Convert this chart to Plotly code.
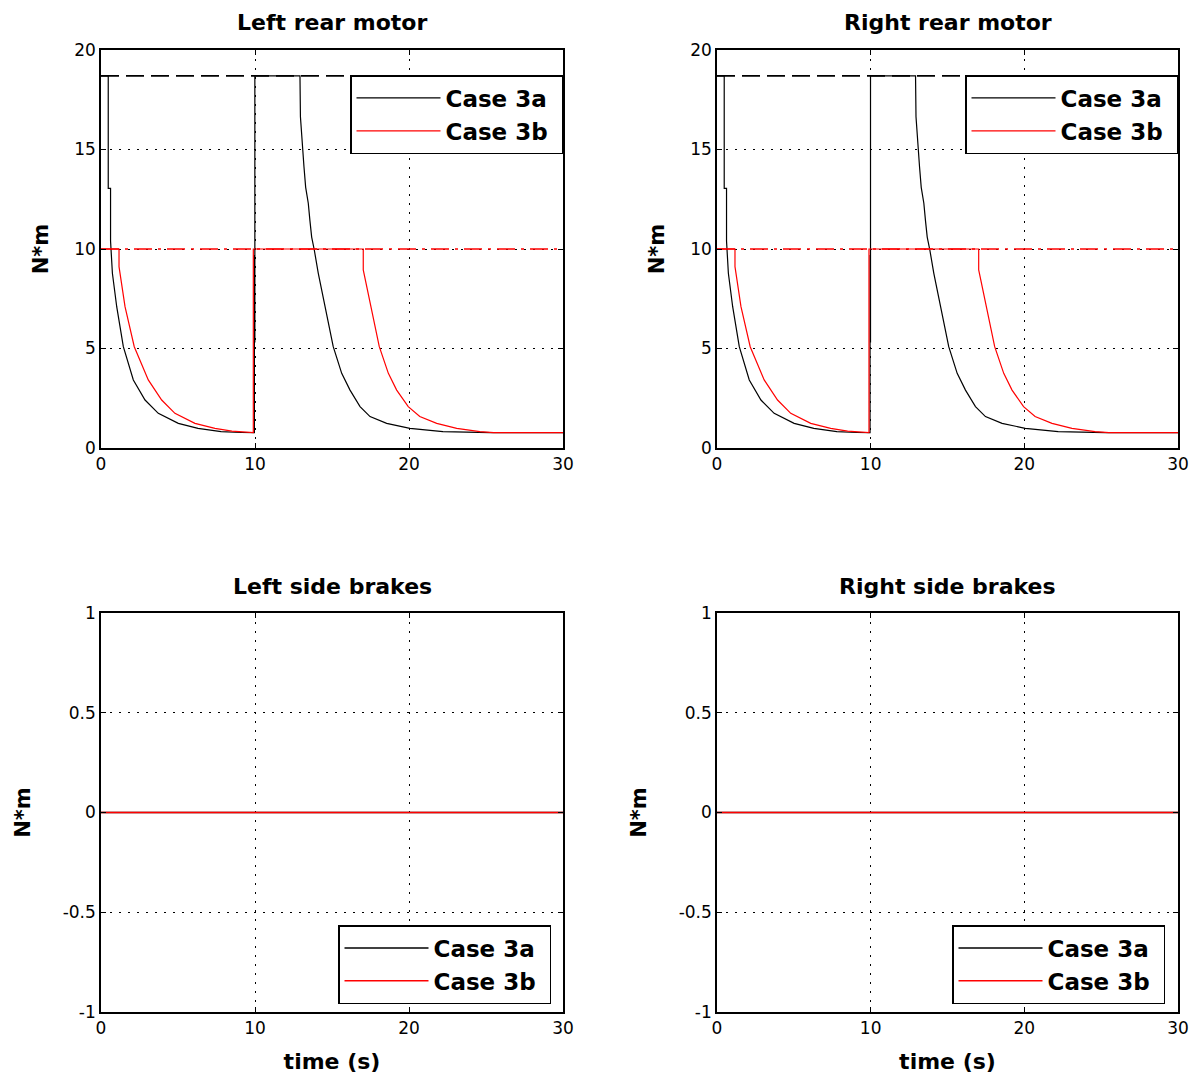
import plotly.graph_objects as go

# ---------------- data ----------------
time_range = [0, 30]
limit_3a = 18.7          # black dashed limit
limit_3b = 10.0          # red dash-dot limit

case3a_t = [0, 0.47, 0.47, 0.62, 0.62, 0.74, 1.02, 1.45, 2.10, 2.86, 3.72, 5.02, 6.30,
            7.80, 9.10, 9.96, 9.96, 9.99, 9.99,
            12.92, 12.95, 13.07, 13.18, 13.29, 13.46, 13.57, 13.68, 13.85, 14.11, 14.55,
            15.08, 15.63, 16.17, 16.82, 17.47, 18.55, 20.06, 22.20, 25.30, 30.0]
case3a_torque = [18.7, 18.7, 13.05, 13.05, 10.4, 8.78, 7.10, 5.09, 3.42, 2.41, 1.74, 1.24, 0.99,
                 0.82, 0.78, 0.77, 9.70, 5.30, 18.7,
                 18.7, 16.65, 15.14, 14.13, 13.10, 12.30, 11.40, 10.60, 9.95, 8.78, 7.10,
                 5.09, 3.75, 2.91, 2.08, 1.58, 1.24, 0.99, 0.82, 0.77, 0.77]

case3b_t = [0, 1.17, 1.17, 1.56, 2.16, 3.07, 3.94, 4.80, 6.10, 7.40, 8.50, 9.89, 9.89,
            17.03, 17.03, 17.51, 18.07, 18.66, 19.20, 19.95, 20.70, 21.80, 23.10, 24.60, 25.50, 30.0]
case3b_torque = [10.0, 10.0, 9.11, 7.10, 5.09, 3.42, 2.41, 1.74, 1.24, 0.99, 0.85, 0.77, 10.0,
                 10.0, 8.95, 7.10, 5.09, 3.75, 2.91, 2.08, 1.58, 1.24, 0.99, 0.82, 0.77, 0.77]

brake_t = [0, 30]
brake_3a = [0, 0]
brake_3b = [0, 0]

panel_titles = ["Left rear motor", "Right rear motor", "Left side brakes", "Right side brakes"]
legend_names = ["Case 3a", "Case 3b"]
motor_ticks = [0, 5, 10, 15, 20]
motor_ticklabels = ["0", "5", "10", "15", "20"]
brake_ticks = [-1, -0.5, 0, 0.5, 1]
brake_ticklabels = ["-1", "-0.5", "0", "0.5", "1"]
time_ticks = [0, 10, 20, 30]
time_ticklabels = ["0", "10", "20", "30"]
y_label = "N*m"
x_label = "time (s)"

# ---------------- figure ----------------
OFF = 8                      # default page body margin (figure starts at page x=8, y=8)
W, H = 1201 - OFF, 1075 - OFF
ML, MT = 101 - OFF, 50 - OFF
MR, MB = 23, 63
PW, PH = W - ML - MR, H - MT - MB


def px_x(px):
    return (px - OFF - ML) / PW


def px_y(py):
    return (H - MB - (py - OFF)) / PH


fig = go.Figure()

BLACK = "#000000"
RED = "#ff0000"
NBSP = "\u00a0"

for i in range(4):
    n = i + 1
    xa = "x" if n == 1 else f"x{n}"
    ya = "y" if n == 1 else f"y{n}"
    lg = "legend" if n == 1 else f"legend{n}"
    if i < 2:
        fig.add_trace(go.Scatter(x=case3a_t, y=case3a_torque, mode="lines",
                                 name=legend_names[0] + NBSP,
                                 line=dict(color=BLACK, width=1.2), xaxis=xa, yaxis=ya,
                                 legend=lg, legendgroup="a", showlegend=True))
        fig.add_trace(go.Scatter(x=case3b_t, y=case3b_torque, mode="lines",
                                 name=legend_names[1] + NBSP,
                                 line=dict(color=RED, width=1.2), xaxis=xa, yaxis=ya,
                                 legend=lg, legendgroup="b", showlegend=True))
        fig.add_trace(go.Scatter(x=time_range, y=[limit_3a, limit_3a], mode="lines",
                                 line=dict(color=BLACK, width=1.6, dash="18px,7px"),
                                 xaxis=xa, yaxis=ya, showlegend=False, hoverinfo="skip"))
        fig.add_trace(go.Scatter(x=time_range, y=[limit_3b, limit_3b], mode="lines",
                                 line=dict(color=RED, width=1.6, dash="18px,6px,3px,6px"),
                                 xaxis=xa, yaxis=ya, showlegend=False, hoverinfo="skip"))
    else:
        fig.add_trace(go.Scatter(x=brake_t, y=brake_3a, mode="lines",
                                 name=legend_names[0] + NBSP,
                                 line=dict(color=BLACK, width=1.5), xaxis=xa, yaxis=ya,
                                 legend=lg, legendgroup="a", showlegend=True))
        fig.add_trace(go.Scatter(x=brake_t, y=brake_3b, mode="lines",
                                 name=legend_names[1] + NBSP,
                                 line=dict(color=RED, width=1.5), xaxis=xa, yaxis=ya,
                                 legend=lg, legendgroup="b", showlegend=True))

x_domains = [[0, px_x(563)], [px_x(717), 1.0]]
y_domains = [[px_y(448), 1.0], [0, px_y(613)]]

tick_font = dict(family="DejaVu Sans", size=17, color=BLACK)
bold_font = dict(family="DejaVu Sans", size=21, color=BLACK, weight="bold")

layout = dict(
    width=W, height=H, margin=dict(l=ML, r=MR, t=MT, b=MB, autoexpand=False),
    paper_bgcolor="white", plot_bgcolor="white", showlegend=True,
    font=dict(family="DejaVu Sans", color=BLACK),
)

for i in range(4):
    n = i + 1
    row, col = i // 2, i % 2
    xkey = "xaxis" if n == 1 else f"xaxis{n}"
    ykey = "yaxis" if n == 1 else f"yaxis{n}"
    anchor_y = "y" if n == 1 else f"y{n}"
    anchor_x = "x" if n == 1 else f"x{n}"
    common = dict(showline=True, linecolor=BLACK, linewidth=1.6, mirror="ticks",
                  ticks="inside", ticklen=5, tickwidth=1, tickcolor=BLACK,
                  showgrid=True, gridcolor=BLACK, gridwidth=1, griddash="2px,7px",
                  zeroline=False, tickfont=tick_font, automargin=False)
    xa = dict(common, domain=x_domains[col], anchor=anchor_y, range=time_range,
              tickmode="array", tickvals=time_ticks, ticktext=time_ticklabels)
    if row == 1:
        xa["title"] = dict(text=x_label, font=dict(bold_font, size=22), standoff=16)
    if row == 0:
        ya = dict(common, domain=y_domains[row], anchor=anchor_x, range=[0, 20],
                  tickmode="array", tickvals=motor_ticks, ticktext=motor_ticklabels)
    else:
        ya = dict(common, domain=y_domains[row], anchor=anchor_x, range=[-1, 1],
                  tickmode="array", tickvals=brake_ticks, ticktext=brake_ticklabels)
    ya["title"] = dict(text=y_label, font=bold_font, standoff=20 if row == 0 else 26)
    layout[xkey] = xa
    layout[ykey] = ya

# legends
legend_pos = [
    (px_x(563), px_y(75), "top"),
    (px_x(1178), px_y(75), "top"),
    (px_x(551), px_y(1004), "bottom"),
    (px_x(1165), px_y(1004), "bottom"),
]
for i, (lx, ly, va) in enumerate(legend_pos):
    key = "legend" if i == 0 else f"legend{i + 1}"
    layout[key] = dict(x=lx, y=ly, xanchor="right", yanchor=va, xref="paper", yref="paper",
                       bgcolor="white", bordercolor=BLACK, borderwidth=1.5,
                       font=dict(family="DejaVu Sans", size=23, color=BLACK, weight="bold"),
                       itemwidth=84, traceorder="grouped", tracegroupgap=0,
                       itemclick=False, itemdoubleclick=False)

fig.update_layout(**layout)

# panel titles
title_pos = [(px_x(332), px_y(22)), (px_x(947.5), px_y(22)),
             (px_x(332), px_y(586)), (px_x(947.5), px_y(586))]
for txt, (tx, ty) in zip(panel_titles, title_pos):
    fig.add_annotation(text=txt, x=tx, y=ty, xref="paper", yref="paper",
                       xanchor="center", yanchor="middle", showarrow=False,
                       font=dict(family="DejaVu Sans", size=22, color=BLACK, weight="bold"))

fig.write_html("out.html")
